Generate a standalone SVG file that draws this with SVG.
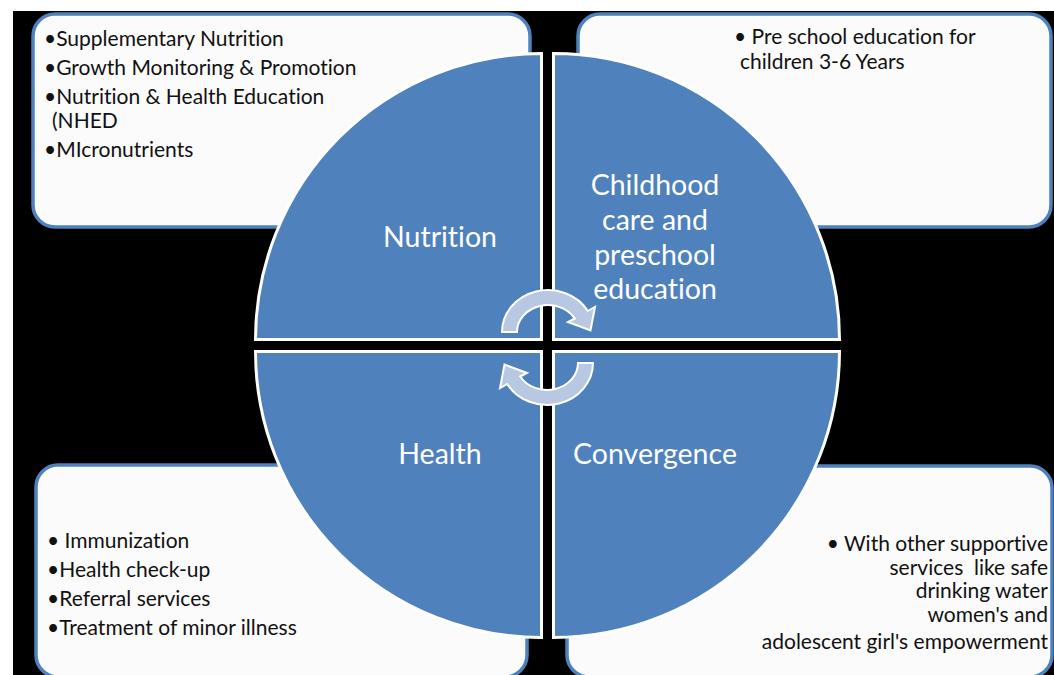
<svg xmlns="http://www.w3.org/2000/svg" width="1054" height="675" viewBox="0 0 1054 675">
<defs>
<style>
text{font-variant-ligatures:none}
.box{fill:#fbfbfb;stroke:#4f81bd;stroke-width:3.5}
.q{fill:#4f81bd;stroke:#ffffff;stroke-width:3}
.arr{fill:#b9c8e2;stroke:#ffffff;stroke-width:2}
.lbl{font-family:Lato,"Liberation Sans",sans-serif;font-size:28.5px;fill:#ffffff;text-anchor:middle}
.t{font-family:Lato,"Liberation Sans",sans-serif;font-size:21px;fill:#111111;white-space:pre}
.tr{font-family:Lato,"Liberation Sans",sans-serif;font-size:21px;fill:#111111;text-anchor:end;white-space:pre}
</style>
<path id="carrow" d="M 517 332 L 502 332 A 46 42 0 0 1 587.8 311 L 595 307 L 590.5 330.5 L 568 322 L 574.8 318.5 A 31 27 0 0 0 517 332 Z"/>
</defs>
<rect x="0" y="0" width="1054" height="675" fill="#ffffff"/>
<rect x="13" y="11" width="1041" height="664" fill="#000000"/>

<g id="box-nutrition">
<rect class="box" x="33" y="14" width="497" height="213" rx="22"/>
<text class="t" x="44" y="46">•Supplementary Nutrition</text>
<text class="t" x="44" y="75">•Growth Monitoring &amp; Promotion</text>
<text class="t" x="44" y="104">•Nutrition &amp; Health Education</text>
<text class="t" x="52" y="128">(NHED</text>
<text class="t" x="44" y="157">•MIcronutrients</text>
</g>
<g id="box-preschool">
<rect class="box" x="578" y="14" width="473" height="213" rx="22"/>
<text class="t" x="734" y="44">• Pre school education for</text>
<text class="t" x="740" y="69">children 3-6 Years</text>
</g>
<g id="box-health">
<rect class="box" x="36" y="465" width="491" height="212" rx="22"/>
<text class="t" x="47" y="548">• Immunization</text>
<text class="t" x="47" y="577">•Health check-up</text>
<text class="t" x="47" y="606">•Referral services</text>
<text class="t" x="47" y="635">•Treatment of minor illness</text>
</g>
<g id="box-convergence">
<rect class="box" x="567" y="466" width="485" height="211" rx="22"/>
<text class="tr" x="1048" y="551">• With other supportive</text>
<text class="tr" x="1048" y="575">services  like safe</text>
<text class="tr" x="1048" y="598">drinking water</text>
<text class="tr" x="1048" y="622">women's and</text>
<text class="tr" x="1048" y="649">adolescent girl's empowerment</text>
</g>

<g id="q-nutrition">
<path class="q" d="M 541.5 339.5 L 255.5 339.5 A 286 286 0 0 1 541.5 53.5 Z"/>
<text class="lbl" x="440" y="247">Nutrition</text>
</g>
<g id="q-preschool">
<path class="q" d="M 553.5 339.5 L 553.5 53.5 A 286 286 0 0 1 839.5 339.5 Z"/>
<text class="lbl" x="655" y="195">Childhood</text>
<text class="lbl" x="655" y="230">care and</text>
<text class="lbl" x="655" y="265">preschool</text>
<text class="lbl" x="655" y="299">education</text>
</g>
<g id="q-health">
<path class="q" d="M 541.5 351.5 L 541.5 637.5 A 286 286 0 0 1 255.5 351.5 Z"/>
<text class="lbl" x="440" y="464">Health</text>
</g>
<g id="q-convergence">
<path class="q" d="M 553.5 351.5 L 839.5 351.5 A 286 286 0 0 1 553.5 637.5 Z"/>
<text class="lbl" x="655" y="464">Convergence</text>
</g>

<g id="connectors">
<use href="#carrow" class="arr"/>
<use href="#carrow" class="arr" transform="rotate(180 547.5 347.5)"/>
</g>
</svg>
